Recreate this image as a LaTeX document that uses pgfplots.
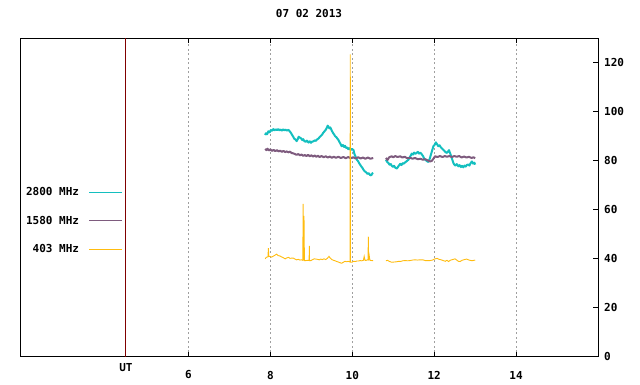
\documentclass[border=0pt]{standalone}
\usepackage{pgfplots}
\pgfplotsset{compat=1.18}
\usepackage{fontspec}
\setmainfont{DejaVu Sans Mono}
\definecolor{cyanc}{HTML}{14BFBF}
\definecolor{purp}{HTML}{7E5B7E}
\definecolor{orng}{HTML}{FFBC0F}
\definecolor{utred}{HTML}{800000}
\newcommand{\gfont}{\bfseries\fontsize{11}{13}\selectfont}
\begin{document}
\begin{tikzpicture}
\useasboundingbox (0pt,0pt) rectangle (640pt,384pt);
\begin{axis}[
  at={(20pt,27.5pt)}, anchor=south west, scale only axis,
  width=578pt, height=318.2pt,
  xmin=1.884, xmax=16.0, ymin=0, ymax=130,
  axis line style={line width=0.9pt},
  xtick={6,8,10,12,14}, ytick={0,20,40,60,80,100,120},
  ytick pos=right, yticklabel pos=right,
  tick align=inside, major tick length=5pt,
  every tick/.style={black, line width=0.9pt},
  /pgf/number format/assume math mode=true,
  every tick label/.append style={font=\gfont},
  xticklabel style={anchor=center, yshift=-18.5pt},
  yticklabel style={anchor=west, inner sep=0pt, xshift=6pt},
  xmajorgrids,
  major grid style={gray!75, dash pattern=on 2pt off 2.5pt, line width=0.8pt},
  title={07 02 2013},
  title style={font=\gfont, anchor=center, at={(0.5,1)}, yshift=19.3pt},
  legend style={at={(axis description cs:0.1834,0.545)}, anchor=north east,
    draw=none, fill=none, font=\gfont, row sep=15pt, column sep=8pt},
  legend cell align=right, legend plot pos=right,
  legend image code/.code={\draw[#1, line width=0.8pt] (0pt,0pt) -- (33pt,0pt);},
  clip mode=individual,
]
\addplot[cyanc, line width=2pt, line join=round] coordinates {
(7.87,90.5)(7.89,91.2)(7.92,90.8)(7.95,92.0)(7.98,91.6)(8.01,92.5)(8.04,92.2)(8.07,92.9)(8.10,92.4)(8.13,92.8)(8.16,92.5)(8.19,92.9)(8.22,92.4)(8.25,92.7)(8.28,92.3)(8.31,92.8)(8.34,92.4)(8.37,92.7)(8.40,92.3)(8.44,92.6)(8.47,92.0)(8.50,91.4)(8.53,90.5)(8.56,89.7)(8.58,89.0)(8.61,88.7)(8.64,88.0)(8.67,88.9)(8.69,89.8)(8.72,89.4)(8.75,89.1)(8.78,88.4)(8.80,88.8)(8.83,88.0)(8.86,87.7)(8.89,88.2)(8.93,87.4)(8.96,87.9)(8.99,87.3)(9.02,87.8)(9.05,87.9)(9.08,88.3)(9.11,88.1)(9.14,88.7)(9.17,89.0)(9.20,89.6)(9.23,90.1)(9.26,90.6)(9.29,91.4)(9.32,92.0)(9.35,92.6)(9.38,93.6)(9.40,94.3)(9.42,93.8)(9.44,93.2)(9.46,93.6)(9.48,93.0)(9.50,92.2)(9.53,91.3)(9.56,90.6)(9.58,90.0)(9.61,89.6)(9.64,88.9)(9.66,88.5)(9.69,87.5)(9.72,86.6)(9.74,85.9)(9.77,86.4)(9.80,85.6)(9.82,86.1)(9.85,85.2)(9.88,85.4)(9.90,84.7)(9.93,85.1)(9.96,84.4)(9.99,84.8)(10.03,84.3)(10.05,82.8)(10.08,81.6)(10.11,80.4)(10.14,79.8)(10.17,78.9)(10.19,78.4)(10.22,77.6)(10.25,77.0)(10.28,76.1)(10.31,75.6)(10.34,75.2)(10.37,74.6)(10.40,74.9)(10.43,74.2)(10.46,74.0)(10.49,74.8)(10.51,75.0)
};
\addlegendentry{2800 MHz}
\addplot[purp, line width=2pt, line join=round] coordinates {
(7.87,84.8)(7.90,84.3)(7.93,84.9)(7.96,84.2)(8.00,84.6)(8.04,84.0)(8.08,84.4)(8.12,83.9)(8.16,84.3)(8.20,83.8)(8.24,84.1)(8.28,83.6)(8.32,84.0)(8.36,83.5)(8.40,83.8)(8.44,83.4)(8.48,83.7)(8.52,83.1)(8.56,83.0)(8.60,82.7)(8.64,82.4)(8.68,82.7)(8.72,82.2)(8.76,82.5)(8.80,82.0)(8.84,82.3)(8.88,81.9)(8.92,82.4)(8.96,81.8)(9.00,82.2)(9.04,81.7)(9.08,82.1)(9.12,81.6)(9.16,82.0)(9.20,81.5)(9.25,81.9)(9.30,81.4)(9.35,81.8)(9.40,81.3)(9.45,81.7)(9.50,81.2)(9.55,81.6)(9.60,81.2)(9.66,81.6)(9.72,81.1)(9.78,81.5)(9.84,81.0)(9.90,81.5)(9.96,81.0)(10.02,81.4)(10.08,80.9)(10.14,81.4)(10.20,80.9)(10.26,81.3)(10.32,80.8)(10.38,81.3)(10.44,80.8)(10.51,81.1)
};
\addlegendentry{1580 MHz}
\addplot[orng, line width=0.9pt] coordinates {
(7.87,39.9)(7.90,40.5)(7.93,40.7)(7.94,40.7)(7.95,44.3)(7.96,40.9)(7.99,40.9)(8.03,40.6)(8.07,41.0)(8.11,41.4)(8.15,41.8)(8.19,41.2)(8.23,41.1)(8.27,40.7)(8.31,40.4)(8.36,39.9)(8.40,40.3)(8.44,40.5)(8.48,40.1)(8.52,40.2)(8.56,40.2)(8.60,39.8)(8.64,39.5)(8.68,39.7)(8.72,39.4)(8.76,39.5)(8.79,39.3)(8.80,62.4)(8.81,39.3)(8.82,57.5)(8.83,39.2)(8.87,39.2)(8.91,39.3)(8.945,39.2)(8.95,45.2)(8.955,39.2)(8.99,39.2)(9.03,39.6)(9.07,39.9)(9.11,39.8)(9.15,39.7)(9.19,39.5)(9.23,39.8)(9.27,39.6)(9.31,39.9)(9.35,39.6)(9.39,40.1)(9.43,40.9)(9.46,40.2)(9.50,39.6)(9.54,39.3)(9.58,39.1)(9.62,38.8)(9.66,38.6)(9.70,38.3)(9.74,38.1)(9.78,38.5)(9.82,38.9)(9.86,38.7)(9.90,38.9)(9.945,38.6)(9.95,123.4)(9.955,38.5)(9.99,38.5)(10.03,38.9)(10.07,38.8)(10.11,39.0)(10.15,39.0)(10.19,39.2)(10.23,39.1)(10.27,39.3)(10.29,40.9)(10.31,39.3)(10.34,39.3)(10.37,39.5)(10.385,39.4)(10.39,49.0)(10.395,39.4)(10.41,41.5)(10.43,39.3)(10.47,39.2)(10.51,39.2)
};
\addlegendentry{403 MHz}
\addplot[cyanc, line width=2pt, line join=round, forget plot] coordinates {
(10.82,80.4)(10.85,79.5)(10.88,79.1)(10.91,78.3)(10.94,78.6)(10.96,78.0)(10.99,77.5)(11.02,77.9)(11.05,77.1)(11.09,76.8)(11.12,77.6)(11.15,78.3)(11.17,78.7)(11.20,78.2)(11.23,79.0)(11.26,78.8)(11.29,79.3)(11.32,79.7)(11.35,80.1)(11.37,80.4)(11.40,81.3)(11.43,82.2)(11.45,82.9)(11.48,82.5)(11.51,83.3)(11.54,82.8)(11.57,83.2)(11.60,83.6)(11.63,82.9)(11.66,83.3)(11.70,82.5)(11.73,81.8)(11.75,81.0)(11.78,80.4)(11.81,80.0)(11.84,79.6)(11.86,79.5)(11.89,80.8)(11.92,82.5)(11.95,84.2)(11.98,85.9)(12.01,86.5)(12.04,87.5)(12.07,86.7)(12.10,85.9)(12.13,86.3)(12.16,85.5)(12.19,85.0)(12.22,84.5)(12.25,84.0)(12.28,83.4)(12.31,83.2)(12.34,83.8)(12.36,84.3)(12.39,83.0)(12.42,81.5)(12.45,80.0)(12.47,79.0)(12.49,78.4)(12.52,78.0)(12.55,78.6)(12.59,77.7)(12.62,78.2)(12.65,77.4)(12.68,77.9)(12.71,77.3)(12.74,78.0)(12.77,77.6)(12.80,78.3)(12.83,78.4)(12.86,78.0)(12.89,79.0)(12.92,79.7)(12.95,78.8)(12.98,79.2)(13.00,78.4)
};
\addplot[purp, line width=2pt, line join=round, forget plot] coordinates {
(10.82,81.1)(10.86,80.3)(10.90,81.4)(10.96,81.8)(11.00,81.4)(11.05,81.9)(11.10,81.5)(11.17,81.8)(11.22,81.3)(11.28,81.6)(11.34,81.0)(11.41,81.2)(11.47,80.8)(11.53,81.1)(11.60,80.6)(11.66,80.8)(11.72,80.4)(11.78,80.6)(11.84,80.1)(11.90,79.7)(11.94,79.9)(11.98,80.8)(12.02,81.8)(12.08,81.5)(12.14,81.9)(12.20,81.5)(12.26,81.9)(12.31,81.6)(12.37,81.9)(12.43,81.5)(12.49,81.9)(12.55,81.6)(12.61,81.9)(12.67,81.3)(12.73,81.7)(12.79,81.3)(12.85,81.6)(12.91,81.1)(12.96,81.4)(13.00,81.0)
};
\addplot[orng, line width=0.9pt, forget plot] coordinates {
(10.82,39.1)(10.86,39.3)(10.90,38.9)(10.96,38.5)(11.02,38.6)(11.08,38.7)(11.14,38.9)(11.17,38.8)(11.23,39.1)(11.29,39.2)(11.35,39.1)(11.41,39.2)(11.47,39.4)(11.53,39.5)(11.59,39.4)(11.66,39.5)(11.72,39.5)(11.78,39.2)(11.84,39.2)(11.90,39.2)(11.96,39.4)(12.02,39.9)(12.07,40.1)(12.12,39.7)(12.17,39.5)(12.22,39.2)(12.27,38.9)(12.31,39.3)(12.35,38.8)(12.40,39.4)(12.45,39.6)(12.51,39.9)(12.55,39.4)(12.59,38.9)(12.63,38.8)(12.68,39.3)(12.74,39.6)(12.79,39.8)(12.85,39.4)(12.90,39.2)(12.95,39.2)(13.00,39.4)
};
\addplot[utred, line width=0.9pt, forget plot] coordinates {(4.47,0) (4.47,130)};
\node[font=\gfont, anchor=center] at (axis cs:4.47,0) [yshift=-11pt] {UT};
\end{axis}
\end{tikzpicture}
\end{document}
